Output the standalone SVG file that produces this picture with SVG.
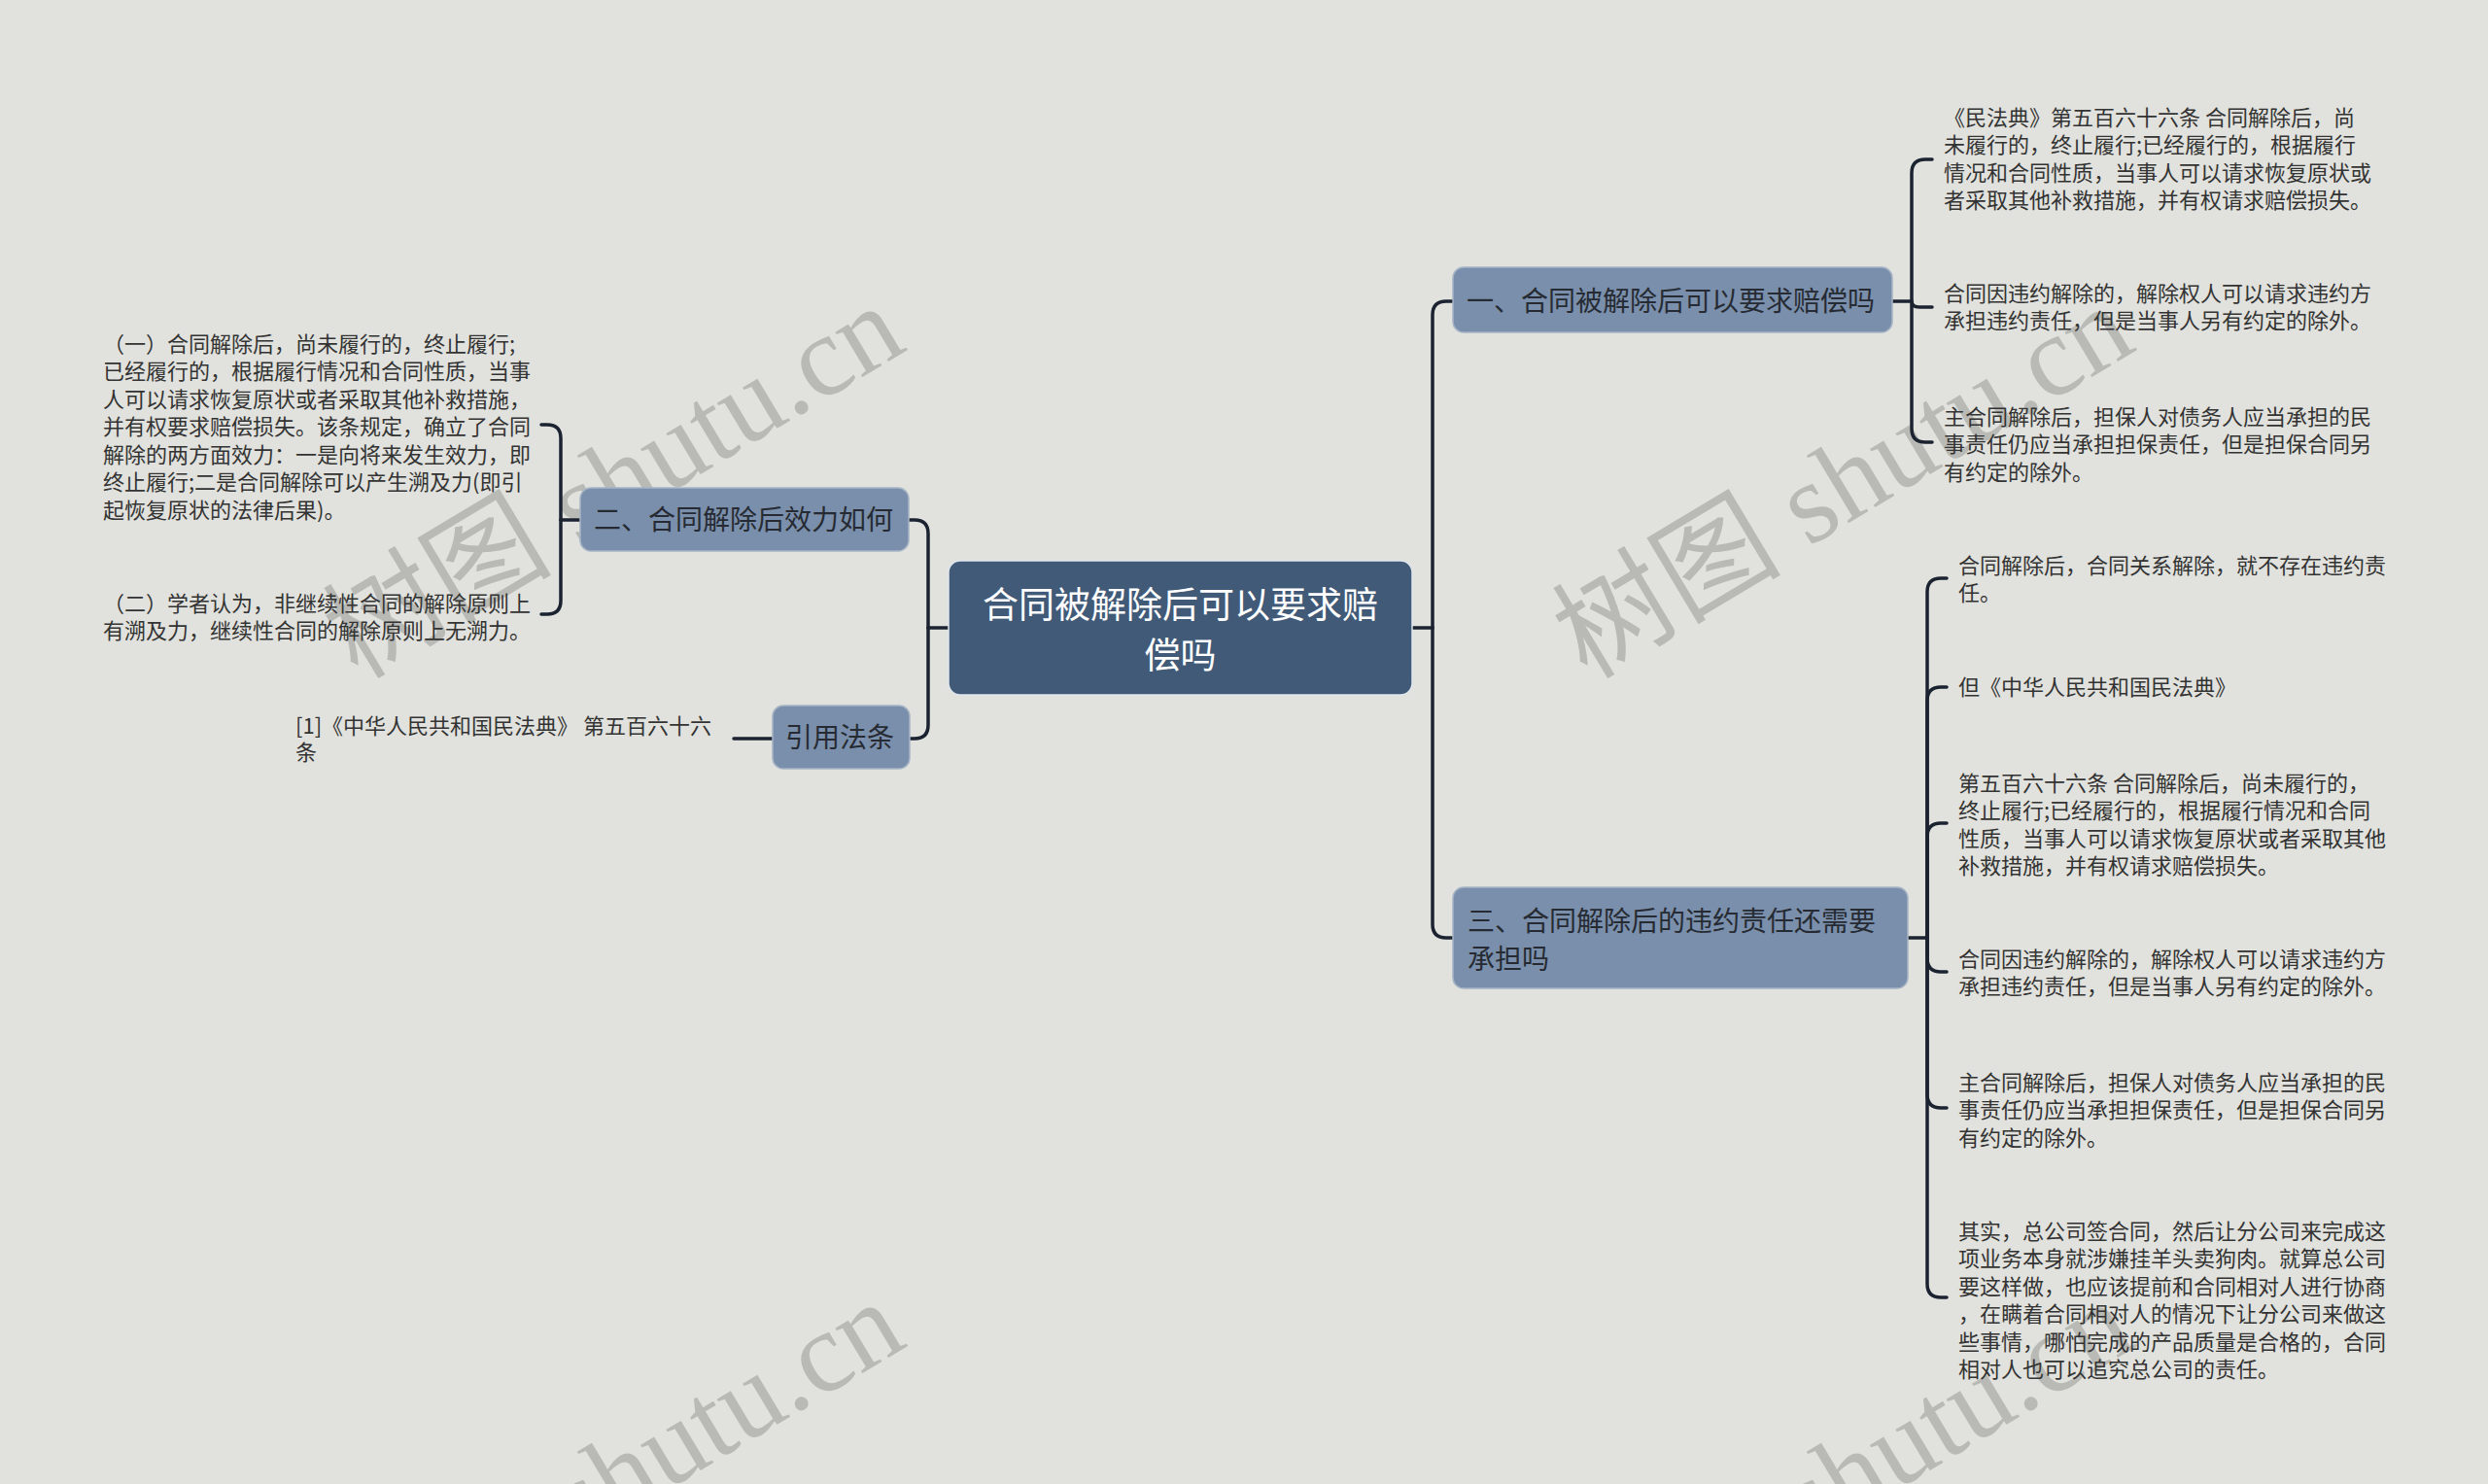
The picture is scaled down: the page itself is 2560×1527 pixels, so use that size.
<svg xmlns="http://www.w3.org/2000/svg" width="2560" height="1527" viewBox="0 0 2560 1527">
<style>
.bg{fill:#e1e2dd}
.wm{font-family:"Liberation Serif","Noto Sans CJK SC",serif;font-size:118px;fill:#b9bab5}
.root{fill:#415a78;stroke:#dfe6ee;stroke-width:1.5}
.l1{fill:#7a8fab;stroke:#a6b4c6;stroke-width:1.5}
.rt{font-family:"Noto Sans CJK SC",sans-serif;font-size:37px;fill:#ffffff;text-anchor:middle}
.t1{font-family:"Noto Sans CJK SC",sans-serif;font-size:28px;fill:#262b33}
.t2{font-family:"Noto Sans CJK SC",sans-serif;font-size:22px;fill:#333333}
.c{fill:none;stroke:#1b2331;stroke-width:3.5;stroke-linecap:round;stroke-linejoin:round}
</style>
<rect class="bg" x="0" y="0" width="2560" height="1527"/>
<g id="watermarks">
<text class="wm" transform="translate(368,700) rotate(-31)">树图 shutu.cn</text>
<text class="wm" transform="translate(1633,700) rotate(-31)">树图 shutu.cn</text>
<text class="wm" transform="translate(368,1725) rotate(-31)">树图 shutu.cn</text>
<text class="wm" transform="translate(1633,1725) rotate(-31)">树图 shutu.cn</text>
</g>
<g id="connectors">
<path class="c" d="M976,646 H955"/>
<path class="c" d="M955,646 V549 Q955,535 941,535 H935"/>
<path class="c" d="M955,646 V746 Q955,760 941,760 H936"/>
<path class="c" d="M1453,646 H1474"/>
<path class="c" d="M1474,646 V324 Q1474,310 1488,310 H1495"/>
<path class="c" d="M1474,646 V951 Q1474,965 1488,965 H1495"/>
<path class="c" d="M1947,310 H1967"/>
<path class="c" d="M1967,310 V178 Q1967,164 1981,164 H1988"/>
<path class="c" d="M1967,310 Q1967,316 1975,316 H1988"/>
<path class="c" d="M1967,310 V441 Q1967,455 1981,455 H1988"/>
<path class="c" d="M1963,965 H1983"/>
<path class="c" d="M1983,965 V609 Q1983,595 1997,595 H2003"/>
<path class="c" d="M1983,965 V721 Q1983,707 1997,707 H2003"/>
<path class="c" d="M1983,965 V861 Q1983,847 1997,847 H2003"/>
<path class="c" d="M1983,965 V986 Q1983,1000 1997,1000 H2003"/>
<path class="c" d="M1983,965 V1126 Q1983,1140 1997,1140 H2003"/>
<path class="c" d="M1983,965 V1321 Q1983,1335 1997,1335 H2003"/>
<path class="c" d="M597,535 H577"/>
<path class="c" d="M577,535 V451 Q577,437 563,437 H557"/>
<path class="c" d="M577,535 V618 Q577,632 563,632 H557"/>
<path class="c" d="M795,760 H755"/>
</g>
<g id="root">
<rect class="root" x="976" y="577" width="477" height="138" rx="12"/>
<text class="rt" x="1214.5" y="636">合同被解除后可以要求赔</text>
<text class="rt" x="1214.5" y="688">偿吗</text>
</g>
<g id="n1">
<rect class="l1" x="1495" y="275" width="452" height="67" rx="11"/>
<text class="t1" x="1509" y="320">一、合同被解除后可以要求赔偿吗</text>
</g>
<g id="n1-1">
<text class="t2" x="2000" y="128.5">《民法典》第五百六十六条 合同解除后，尚</text>
<text class="t2" x="2000" y="157">未履行的，终止履行;已经履行的，根据履行</text>
<text class="t2" x="2000" y="185.5">情况和合同性质，当事人可以请求恢复原状或</text>
<text class="t2" x="2000" y="214">者采取其他补救措施，并有权请求赔偿损失。</text>
</g>
<g id="n1-2">
<text class="t2" x="2000" y="309.5">合同因违约解除的，解除权人可以请求违约方</text>
<text class="t2" x="2000" y="338">承担违约责任，但是当事人另有约定的除外。</text>
</g>
<g id="n1-3">
<text class="t2" x="2000" y="436.5">主合同解除后，担保人对债务人应当承担的民</text>
<text class="t2" x="2000" y="465">事责任仍应当承担担保责任，但是担保合同另</text>
<text class="t2" x="2000" y="493.5">有约定的除外。</text>
</g>
<g id="n2">
<rect class="l1" x="597" y="502" width="338" height="65" rx="11"/>
<text class="t1" x="611" y="545">二、合同解除后效力如何</text>
</g>
<g id="n2-1">
<text class="t2" x="106" y="361.5">（一）合同解除后，尚未履行的，终止履行;</text>
<text class="t2" x="106" y="390">已经履行的，根据履行情况和合同性质，当事</text>
<text class="t2" x="106" y="418.5">人可以请求恢复原状或者采取其他补救措施，</text>
<text class="t2" x="106" y="447">并有权要求赔偿损失。该条规定，确立了合同</text>
<text class="t2" x="106" y="475.5">解除的两方面效力：一是向将来发生效力，即</text>
<text class="t2" x="106" y="504">终止履行;二是合同解除可以产生溯及力(即引</text>
<text class="t2" x="106" y="532.5">起恢复原状的法律后果)。</text>
</g>
<g id="n2-2">
<text class="t2" x="106" y="628.5">（二）学者认为，非继续性合同的解除原则上</text>
<text class="t2" x="106" y="657">有溯及力，继续性合同的解除原则上无溯力。</text>
</g>
<g id="n3">
<rect class="l1" x="795" y="726" width="141" height="65" rx="11"/>
<text class="t1" x="808" y="769">引用法条</text>
</g>
<g id="n3-1">
<text class="t2" x="304" y="754.5">[1]《中华人民共和国民法典》 第五百六十六</text>
<text class="t2" x="304" y="781.5">条</text>
</g>
<g id="n4">
<rect class="l1" x="1495" y="913" width="468" height="104" rx="11"/>
<text class="t1" x="1510" y="958">三、合同解除后的违约责任还需要</text>
<text class="t1" x="1510" y="997">承担吗</text>
</g>
<g id="n4-1">
<text class="t2" x="2015" y="589.5">合同解除后，合同关系解除，就不存在违约责</text>
<text class="t2" x="2015" y="618">任。</text>
</g>
<g id="n4-2">
<text class="t2" x="2015" y="714.5">但《中华人民共和国民法典》</text>
</g>
<g id="n4-3">
<text class="t2" x="2015" y="813.5">第五百六十六条 合同解除后，尚未履行的，</text>
<text class="t2" x="2015" y="842">终止履行;已经履行的，根据履行情况和合同</text>
<text class="t2" x="2015" y="870.5">性质，当事人可以请求恢复原状或者采取其他</text>
<text class="t2" x="2015" y="899">补救措施，并有权请求赔偿损失。</text>
</g>
<g id="n4-4">
<text class="t2" x="2015" y="994.5">合同因违约解除的，解除权人可以请求违约方</text>
<text class="t2" x="2015" y="1023">承担违约责任，但是当事人另有约定的除外。</text>
</g>
<g id="n4-5">
<text class="t2" x="2015" y="1121.5">主合同解除后，担保人对债务人应当承担的民</text>
<text class="t2" x="2015" y="1150">事责任仍应当承担担保责任，但是担保合同另</text>
<text class="t2" x="2015" y="1178.5">有约定的除外。</text>
</g>
<g id="n4-6">
<text class="t2" x="2015" y="1274.5">其实，总公司签合同，然后让分公司来完成这</text>
<text class="t2" x="2015" y="1303">项业务本身就涉嫌挂羊头卖狗肉。就算总公司</text>
<text class="t2" x="2015" y="1331.5">要这样做，也应该提前和合同相对人进行协商</text>
<text class="t2" x="2015" y="1360">，在瞒着合同相对人的情况下让分公司来做这</text>
<text class="t2" x="2015" y="1388.5">些事情，哪怕完成的产品质量是合格的，合同</text>
<text class="t2" x="2015" y="1417">相对人也可以追究总公司的责任。</text>
</g>
</svg>
